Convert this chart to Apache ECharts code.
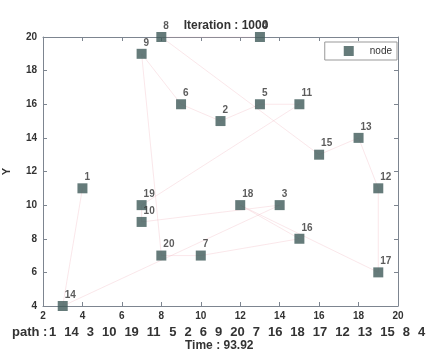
<!DOCTYPE html>
<html><head><meta charset="utf-8">
<script src="https://cdn.jsdelivr.net/npm/echarts@6/dist/echarts.min.js"></script>
<style>html,body{margin:0;padding:0;background:#fff}#c{width:428px;height:352px}</style>
</head><body><div id="c"></div>
<script>
var nodeIds = [1,2,3,4,5,6,7,8,9,10,11,12,13,14,15,16,17,18,19,20];
var nodeX = [4,11,14,13,13,9,10,8,7,7,15,19,18,3,16,15,19,12,7,8];
var nodeY = [11,15,10,20,16,16,7,20,19,9,16,11,14,4,13,8,6,10,10,7];
var path = [1,14,3,10,19,11,5,2,6,9,20,7,16,18,17,12,13,15,8,4];
var xTicks = [2,4,6,8,10,12,14,16,18,20];
var yTicks = [4,6,8,10,12,14,16,18,20];
var iteration = 1000;
var timeVal = '93.92';

var nodeData = nodeIds.map(function(id,i){return {value:[nodeX[i],nodeY[i]], name:String(id)};});
var pathData = path.map(function(id){var i=nodeIds.indexOf(id);return [nodeX[i],nodeY[i]];});

var chart = echarts.init(document.getElementById('c'));
var axisCol = '#7d8590';
var lblStyle = {color:'#333', fontSize:10, fontFamily:'Liberation Sans', fontWeight:'bold'};

var pathFont = 'bold 13px "Liberation Sans"';
var graphics = [{type:'text', left:12, top:326, style:{text:'path :', fill:'#333', font:pathFont}}];
var px = 49, digitW = 7.23, gap = 8.0;
path.forEach(function(id){
  var s = String(id);
  graphics.push({type:'text', left:px, top:326, style:{text:s, fill:'#333', font:pathFont}});
  px += s.length*digitW + gap;
});
graphics.push({type:'text', left:185, top:340, style:{text:'Time : '+timeVal, fill:'#333',
  font:'bold 12px "Liberation Sans"'}});

chart.setOption({
  animation:false,
  backgroundColor:'#fff',
  title:{text:'Iteration : '+iteration, left:221, top:15, textAlign:'center',
    textStyle:{fontSize:12, fontWeight:'bold', color:'#333', fontFamily:'Liberation Sans'}},
  grid:{left:43, right:30, top:37, bottom:46, containLabel:false, outerBoundsMode:'none'},
  legend:{right:31, top:42, orient:'vertical', data:['node'], icon:'rect', itemWidth:10, itemHeight:10,
    borderColor:'#999', borderWidth:1, borderRadius:0, padding:[4,5,4,19],
    textStyle:{color:'#333', fontSize:10, fontFamily:'Liberation Sans', padding:[0,0,0,11]}},
  xAxis:[
    {type:'value', min:2, max:20, interval:2, position:'bottom',
     axisLine:{lineStyle:{color:axisCol}}, axisTick:{inside:true, length:4, lineStyle:{color:axisCol}},
     axisLabel:Object.assign({margin:5}, lblStyle), splitLine:{show:false}},
    {type:'value', min:2, max:20, interval:2, position:'top',
     axisLine:{lineStyle:{color:axisCol}}, axisTick:{inside:true, length:4, lineStyle:{color:axisCol}},
     axisLabel:{show:false}, splitLine:{show:false}}
  ],
  yAxis:[
    {type:'value', min:4, max:20, interval:2, position:'left', name:'Y', nameLocation:'middle', nameGap:31,
     nameTextStyle:{color:'#333', fontSize:11, fontWeight:'bold', fontFamily:'Liberation Sans'},
     axisLine:{lineStyle:{color:axisCol}}, axisTick:{inside:true, length:4, lineStyle:{color:axisCol}},
     axisLabel:Object.assign({margin:6}, lblStyle), splitLine:{show:false}},
    {type:'value', min:4, max:20, interval:2, position:'right',
     axisLine:{lineStyle:{color:axisCol}}, axisTick:{inside:true, length:4, lineStyle:{color:axisCol}},
     axisLabel:{show:false}, splitLine:{show:false}}
  ],
  series:[
    {type:'line', data:pathData, symbol:'none', silent:true,
     lineStyle:{color:'#f0b4be', width:1, opacity:0.32}, z:1},
    {name:'node', type:'scatter', data:nodeData, symbol:'rect', symbolSize:10,
     itemStyle:{color:'#3e5a59'}, z:3,
     label:{show:true, formatter:function(p){return p.name;}, position:'right', offset:[-8,-11],
       color:'#333', fontSize:10, fontWeight:'bold', fontFamily:'Liberation Sans'}}
  ],
  graphic:graphics
});
</script></body></html>
